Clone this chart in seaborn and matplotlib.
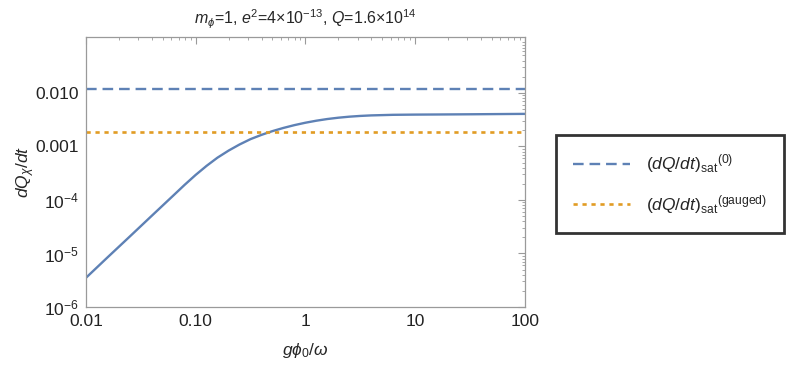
import numpy as np
import pandas as pd
import seaborn as sns
import matplotlib.pyplot as plt
from matplotlib.ticker import LogLocator, NullFormatter

# values
g_phi = [0.01, 0.0158, 0.0251, 0.0398, 0.0631, 0.0794, 0.1, 0.126, 0.158, 0.2,
         0.251, 0.316, 0.398, 0.501, 0.631, 0.794, 1.0, 1.26, 1.58, 2.0,
         2.51, 3.16, 3.98, 6.31, 10.0, 15.8, 31.6, 100.0]
dq_dt = [3.50e-6, 8.51e-6, 2.07e-5, 5.05e-5, 1.227e-4, 1.914e-4, 2.93e-4, 4.34e-4, 6.15e-4, 8.36e-4,
         1.084e-3, 1.365e-3, 1.641e-3, 1.928e-3, 2.213e-3, 2.495e-3, 2.767e-3, 3.02e-3, 3.243e-3, 3.436e-3,
         3.589e-3, 3.707e-3, 3.793e-3, 3.89e-3, 3.926e-3, 3.945e-3, 3.98e-3, 4.05e-3]
sat_0 = 0.0117
sat_gauged = 0.00187

xticks = [0.01, 0.1, 1, 10, 100]
xticklabels = ['0.01', '0.10', '1', '10', '100']
yticks = [1e-6, 1e-5, 1e-4, 1e-3, 1e-2]
yticklabels = ['$10^{-6}$', '$10^{-5}$', '$10^{-4}$', '0.001', '0.010']

blue = '#5E81B5'
orange = '#E19C24'
frame = '#9a9a9a'

sns.set_style('white')
plt.rcParams['font.family'] = ['Liberation Sans', 'DejaVu Sans']
plt.rcParams['mathtext.fontset'] = 'custom'
plt.rcParams['mathtext.rm'] = 'Liberation Sans'
plt.rcParams['mathtext.it'] = 'Liberation Sans:italic'

df = pd.DataFrame({'x': g_phi, 'y': dq_dt})

fig = plt.figure(figsize=(7.88, 3.69), dpi=100)
ax = fig.add_axes([0.109, 0.168, 0.557, 0.732])

sns.lineplot(data=df, x='x', y='y', ax=ax, color=blue, linewidth=1.7)
ax.axhline(sat_0, color=blue, linestyle=(0, (4.5, 2.5)), linewidth=1.7,
           label=r'$(dQ/dt)_{\rm sat}{}^{(0)}$')
ax.axhline(sat_gauged, color=orange, linestyle=(0, (1.6, 1.8)), linewidth=1.9,
           label=r'$(dQ/dt)_{\rm sat}{}^{(\rm gauged)}$')

ax.set_xscale('log')
ax.set_yscale('log')
ax.set_xlim(0.01, 100)
ax.set_ylim(1e-6, 0.111)

ax.set_xticks(xticks)
ax.set_xticklabels(xticklabels)
ax.set_yticks(yticks)
ax.set_yticklabels(yticklabels)
ax.xaxis.set_minor_locator(LogLocator(base=10, subs=np.arange(2, 10), numticks=20))
ax.yaxis.set_minor_locator(LogLocator(base=10, subs=np.arange(2, 10), numticks=20))
ax.xaxis.set_minor_formatter(NullFormatter())
ax.yaxis.set_minor_formatter(NullFormatter())

ax.tick_params(which='both', direction='in', top=True, right=True, color=frame,
               labelsize=12.5, labelcolor='#222222', pad=5)
ax.tick_params(which='major', length=5, width=0.8)
ax.tick_params(which='minor', length=2.5, width=0.6)
for s in ax.spines.values():
    s.set_color(frame)
    s.set_linewidth(0.9)

ax.set_xlabel(r'$g\phi_0/\omega$', fontsize=12.5, labelpad=9)
ax.set_ylabel(r'$dQ_\chi/dt$', fontsize=12.5, labelpad=-1)
ax.set_title(r'$m_\phi$=1, $e^2$=4×10$^{-13}$, $Q$=1.6×10$^{14}$', fontsize=11.5, pad=9)

leg = ax.legend(loc='center left', bbox_to_anchor=(1.07, 0.455), fontsize=12.5,
                frameon=True, fancybox=False, edgecolor='black', borderpad=1.0,
                labelspacing=1.0, handlelength=3.3, handletextpad=0.9, borderaxespad=0)
leg.get_frame().set_linewidth(2.0)

fig.savefig('out.png', dpi=100)
